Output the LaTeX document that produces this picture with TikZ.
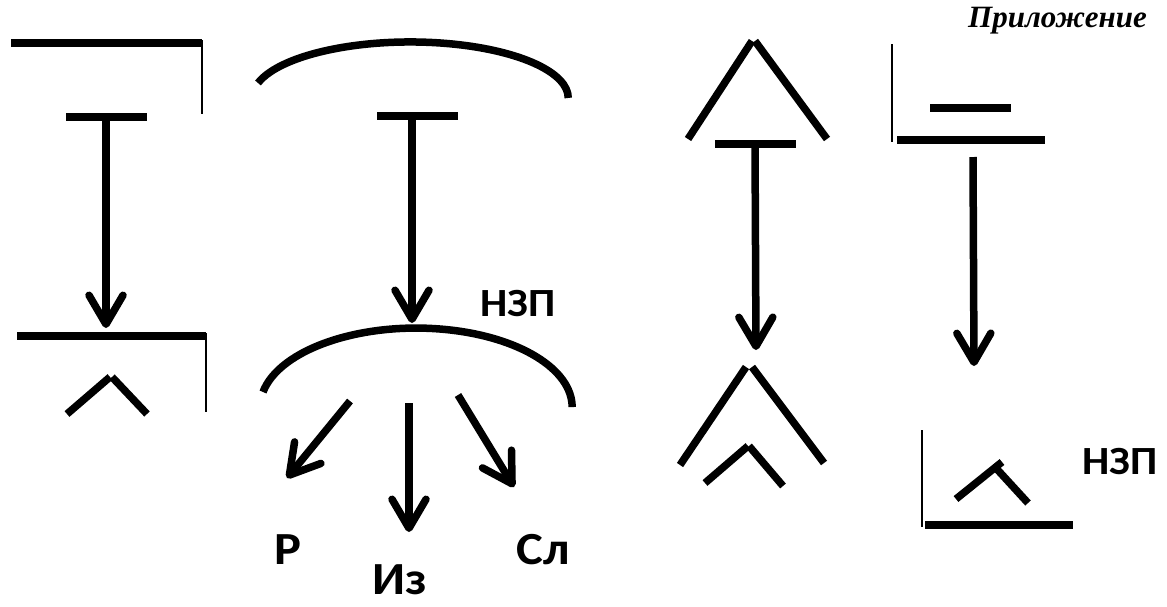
\documentclass[tikz,border=0pt]{standalone}
\usepackage{fontspec}
\newfontfamily\labfont{Carlito}
\newfontfamily\headfont{Liberation Serif}
\usetikzlibrary{arrows.meta}
\begin{document}
\begin{tikzpicture}[x=1pt,y=-1pt,
  ln/.style={line width=7.5pt},
  tl/.style={line width=2.5pt},
  arr/.style={line width=7.5pt,-{Straight Barb[length=29pt,width=34pt,line width=7.5pt,round]}},
  lab/.style={font=\labfont\bfseries\fontsize{46}{46}\selectfont,inner sep=0pt,anchor=base,xscale=1.1},
  labs/.style={font=\labfont\bfseries\fontsize{40}{40}\selectfont,inner sep=0pt,anchor=base,xscale=1.08}]
\useasboundingbox (0,0) rectangle (1167,606);
\fill[white] (0,0) rectangle (1167,606);
% heading
\node[font=\headfont\bfseries\itshape\fontsize{31}{31}\selectfont,inner sep=0pt,anchor=base west] (head) at (968,27) {Приложение};
% ---------- left group ----------
\draw[ln] (11,43) -- (202,43);
\draw[tl] (202,40) -- (202,114);
\coordinate (a1) at (106,117);
\coordinate (a1t) at (106,328);
\draw[ln] (66,117) -- (147,117);
\draw[arr] (a1) -- (a1t);
\draw[ln] (17,336) -- (206,336);
\draw[tl] (206,333) -- (206,412);
\draw[ln] (67,414) -- (110,377);
\draw[ln] (112,377) -- (147,414);
% ---------- middle group ----------
\draw[ln] (258,83) arc[start angle=-164.5,end angle=0,x radius=158,y radius=56];
\coordinate (b1) at (412,116);
\coordinate (b1t) at (412,323);
\draw[ln] (377,116) -- (458,116);
\draw[arr] (b1) -- (b1t);
\node[labs] (nzp1) at (518,316) {НЗП};
\draw[ln] (263,392) arc[start angle=-169,end angle=0,x radius=156,y radius=79];
\coordinate (c1) at (350,401);
\coordinate (c1t) at (287,478);
\coordinate (c2) at (409,403);
\coordinate (c2t) at (409,532);
\coordinate (c3) at (458,395);
\coordinate (c3t) at (514,487);
\draw[arr] (c1) -- (c1t);
\draw[arr] (c2) -- (c2t);
\draw[arr] (c3) -- (c3t);
\node[lab] (r) at (288,564) {Р};
\node[lab] (iz) at (400,594) {Из};
\node[lab] (sl) at (543,564) {Сл};
% ---------- right group 1 ----------
\draw[ln] (688,139) -- (752,41);
\draw[ln] (755,41) -- (827,139);
\coordinate (d1) at (755,144);
\coordinate (d1t) at (756,350);
\draw[ln] (715,144) -- (796,144);
\draw[arr] (d1) -- (d1t);
\draw[ln] (680,465) -- (746,367);
\draw[ln] (752,367) -- (824,463);
\draw[ln] (705,483) -- (748,446);
\draw[ln] (749,446) -- (783,486);
% ---------- right group 2 ----------
\draw[tl] (892,44) -- (892,142);
\draw[ln] (897,140) -- (1045,140);
\draw[ln] (930,108) -- (1011,108);
\coordinate (e1) at (973,157);
\coordinate (e1t) at (974,366);
\draw[arr] (e1) -- (e1t);
\draw[tl] (922,430) -- (922,527);
\draw[ln] (925,525) -- (1073,525);
\draw[ln] (956,499) -- (1002,462);
\draw[ln] (995,467) -- (1028,503);
\node[labs] (nzp2) at (1120,474) {НЗП};
\end{tikzpicture}
\end{document}
